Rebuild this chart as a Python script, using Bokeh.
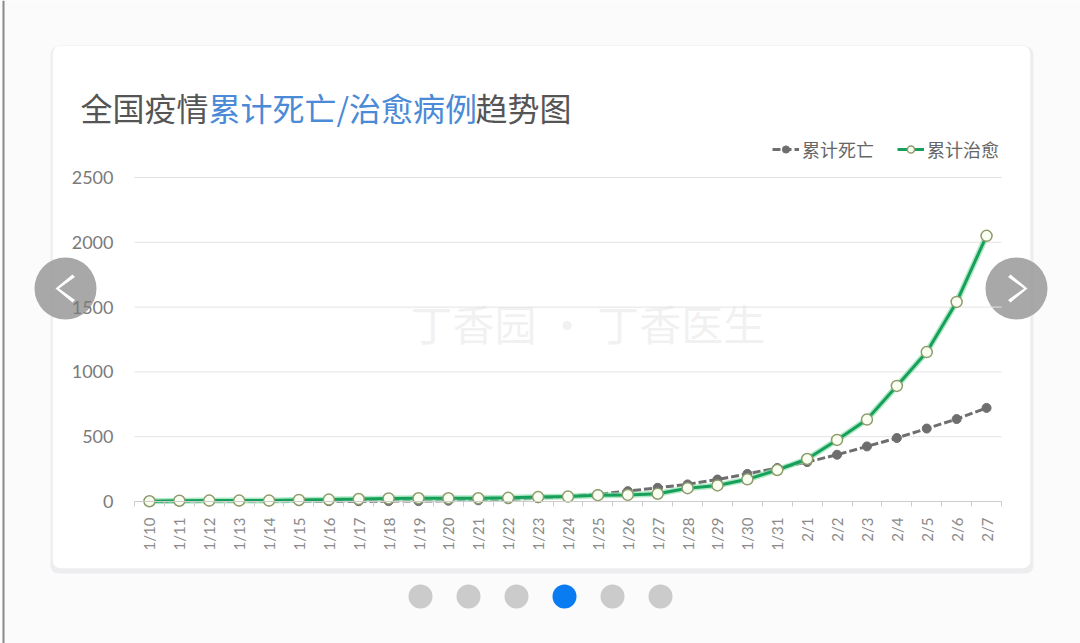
import math
from bokeh.plotting import figure
from bokeh.models import (Range1d, FixedTicker, Legend, LegendItem, Label,
                          BoxAnnotation, PolyAnnotation, ColumnDataSource)
from bokeh.embed import file_html
from bokeh.resources import INLINE

# ---------------- data ----------------
dates = ["1/10", "1/11", "1/12", "1/13", "1/14", "1/15", "1/16", "1/17", "1/18", "1/19",
         "1/20", "1/21", "1/22", "1/23", "1/24", "1/25", "1/26", "1/27", "1/28", "1/29",
         "1/30", "1/31", "2/1", "2/2", "2/3", "2/4", "2/5", "2/6", "2/7"]
deaths = [1, 1, 1, 1, 1, 2, 2, 2, 3, 3, 6, 9, 17, 25, 41, 56, 80, 106, 132, 170,
          213, 259, 304, 361, 425, 490, 563, 636, 722]
cured = [2, 6, 7, 7, 7, 12, 15, 19, 24, 25, 25, 25, 28, 34, 38, 49, 51, 60, 103, 124,
         171, 243, 328, 475, 632, 892, 1153, 1540, 2050]
y_ticks = [0, 500, 1000, 1500, 2000, 2500]
series_names = ["累计死亡", "累计治愈"]
title_parts = ["全国疫情", "累计死亡/治愈病例", "趋势图"]
watermark = "丁香园 · 丁香医生"

# ---------------- layout (pixels of the page) ----------------
W, H = 1080, 643
PLOT_L, PLOT_R = 134, 1001      # plot area left / right edge
Y_TOP_PX, Y_ZERO_PX = 177, 501  # pixel rows of top tick and of zero
CJK = "Noto Sans CJK SC"
NUM = "Lato"

n = len(dates)
xs = list(range(n))
src = ColumnDataSource(dict(x=xs, date=dates, deaths=deaths, cured=cured))

# the frame covers the whole page; ranges are chosen so the plot area lands in place
ppx = (PLOT_R - PLOT_L) / n
x_start = -0.5 - PLOT_L / ppx
x_end = x_start + W / ppx
upp = y_ticks[-1] / (Y_ZERO_PX - Y_TOP_PX)
y_start = -(H - Y_ZERO_PX) * upp
y_end = y_ticks[-1] + Y_TOP_PX * upp

p = figure(width=W, height=H, output_backend="svg", toolbar_location=None,
           x_range=Range1d(x_start, x_end), y_range=Range1d(y_start, y_end),
           min_border=0, min_border_left=0, min_border_right=0,
           min_border_top=0, min_border_bottom=0)
p.outline_line_color = None
p.background_fill_color = "#fbfbfc"
p.border_fill_color = "#fbfbfc"
p.xgrid.visible = False
p.ygrid.visible = False

# x axis (drawn at y = 0)
xa = p.xaxis[0]
xa.fixed_location = 0
xa.bounds = (-0.5, n - 0.5)
xa.ticker = FixedTicker(ticks=xs, minor_ticks=[i - 0.5 for i in range(n + 1)])
xa.major_label_overrides = {i: d for i, d in enumerate(dates)}
xa.major_label_orientation = math.pi / 2
xa.major_tick_line_color = None
xa.major_tick_in = 0
xa.major_tick_out = 0
xa.minor_tick_line_color = "#cccccc"
xa.minor_tick_in = 0
xa.minor_tick_out = 5
xa.axis_line_color = "#cccccc"
xa.major_label_text_font = NUM
xa.major_label_text_font_size = "15px"
xa.major_label_text_color = "#8a8a8a"
xa.major_label_standoff = 11

# y axis (drawn at the left edge of the plot area)
ya = p.yaxis[0]
ya.fixed_location = -0.5
ya.ticker = FixedTicker(ticks=y_ticks)
ya.axis_line_color = None
ya.major_tick_line_color = None
ya.major_tick_in = 0
ya.major_tick_out = 0
ya.minor_tick_line_color = None
ya.major_label_text_font = NUM
ya.major_label_text_font_size = "18px"
ya.major_label_text_color = "#7a7a7a"
ya.major_label_standoff = 21


# page decorations (canvas coords)
def box(l, r, t, b, color, alpha=1.0, radius=0, level="annotation", line=None):
    bx = BoxAnnotation(left=l, right=r, top=t, bottom=b,
                       left_units="canvas", right_units="canvas",
                       top_units="canvas", bottom_units="canvas",
                       fill_color=color, fill_alpha=alpha,
                       line_color=line, border_radius=radius, level=level,
                       editable=False)
    p.add_layout(bx)
    return bx


box(2, 4, 0, H, "#8a8a8a", level="image")
box(50, 1033, 46, 573, "#ededf0", level="image", radius=8)
box(52, 1030, 45, 568, "white", level="image", radius=8, line="#e6e6e6")

# nav circles with chevrons (beneath the axis labels, as in the reference)
for cx in (65, 1016):
    box(cx - 31, cx + 31, 257, 319, "#999999", alpha=0.85, radius=31, level="underlay")
left_chev = ([72, 55, 72, 74.5, 58.5, 74.5], [274, 288, 302, 299.5, 288, 276.5])
right_chev = ([1010, 1027, 1010, 1007.5, 1023.5, 1007.5], [274, 288, 302, 299.5, 288, 276.5])
for cxs, cys in (left_chev, right_chev):
    p.add_layout(PolyAnnotation(xs=cxs, ys=cys, xs_units="canvas", ys_units="canvas",
                                fill_color="white", fill_alpha=1, line_color=None,
                                level="underlay", editable=False))

# grid lines across the plot area only
p.segment(x0=[-0.5] * len(y_ticks), x1=[n - 0.5] * len(y_ticks), y0=y_ticks[1:] + [y_ticks[-1]],
          y1=y_ticks[1:] + [y_ticks[-1]], line_color="#e3e3e3", line_width=1)

# watermark
p.add_layout(Label(x=410, y=322, x_units="canvas", y_units="canvas", text=watermark,
                   text_font=CJK, text_font_size="42px", text_color="#d8d8d8",
                   text_alpha=0.35, text_baseline="middle", level="underlay"))

# series
g_line = p.line("x", "deaths", source=src, line_color="#6e6e6e", line_width=3, line_dash="8 3")
g_pts = p.scatter("x", "deaths", source=src, size=9, fill_color="#6e6e6e", line_color="#6e6e6e")
c_halo = p.line("x", "cured", source=src, line_color="#8fe0ad", line_width=6, line_alpha=0.7)
c_line = p.line("x", "cured", source=src, line_color="#17a05b", line_width=3)
c_pts = p.scatter("x", "cured", source=src, size=11, fill_color="#fbfff2",
                  line_color="#8c9c6c", line_width=1.5)

legend = Legend(items=[LegendItem(label=series_names[0], renderers=[g_line, g_pts]),
                       LegendItem(label=series_names[1], renderers=[c_line, c_pts])],
                location=(772, H - 162), orientation="horizontal",
                glyph_width=27, glyph_height=18, label_standoff=3, spacing=23,
                padding=0, margin=0, border_line_alpha=0, background_fill_alpha=0,
                label_text_font=CJK, label_text_font_size="18px",
                label_text_color="#666666")
p.add_layout(legend)

# title (multi-coloured)
tx = 80
for part, col in zip(title_parts, ["#555555", "#4a8ad6", "#555555"]):
    p.add_layout(Label(x=tx, y=106, x_units="canvas", y_units="canvas", text=part,
                       text_font=CJK, text_font_size="32px", text_color=col,
                       text_baseline="middle"))
    tx += sum(11 if ch == "/" else 32 for ch in part)

# pagination dots
for i, cx in enumerate([420, 468, 516, 564, 612, 660]):
    box(cx - 12, cx + 12, 584, 608, "#0a7cf2" if i == 3 else "#cbcbcb", radius=12)

open("out.html", "w").write(file_html(p, INLINE))
